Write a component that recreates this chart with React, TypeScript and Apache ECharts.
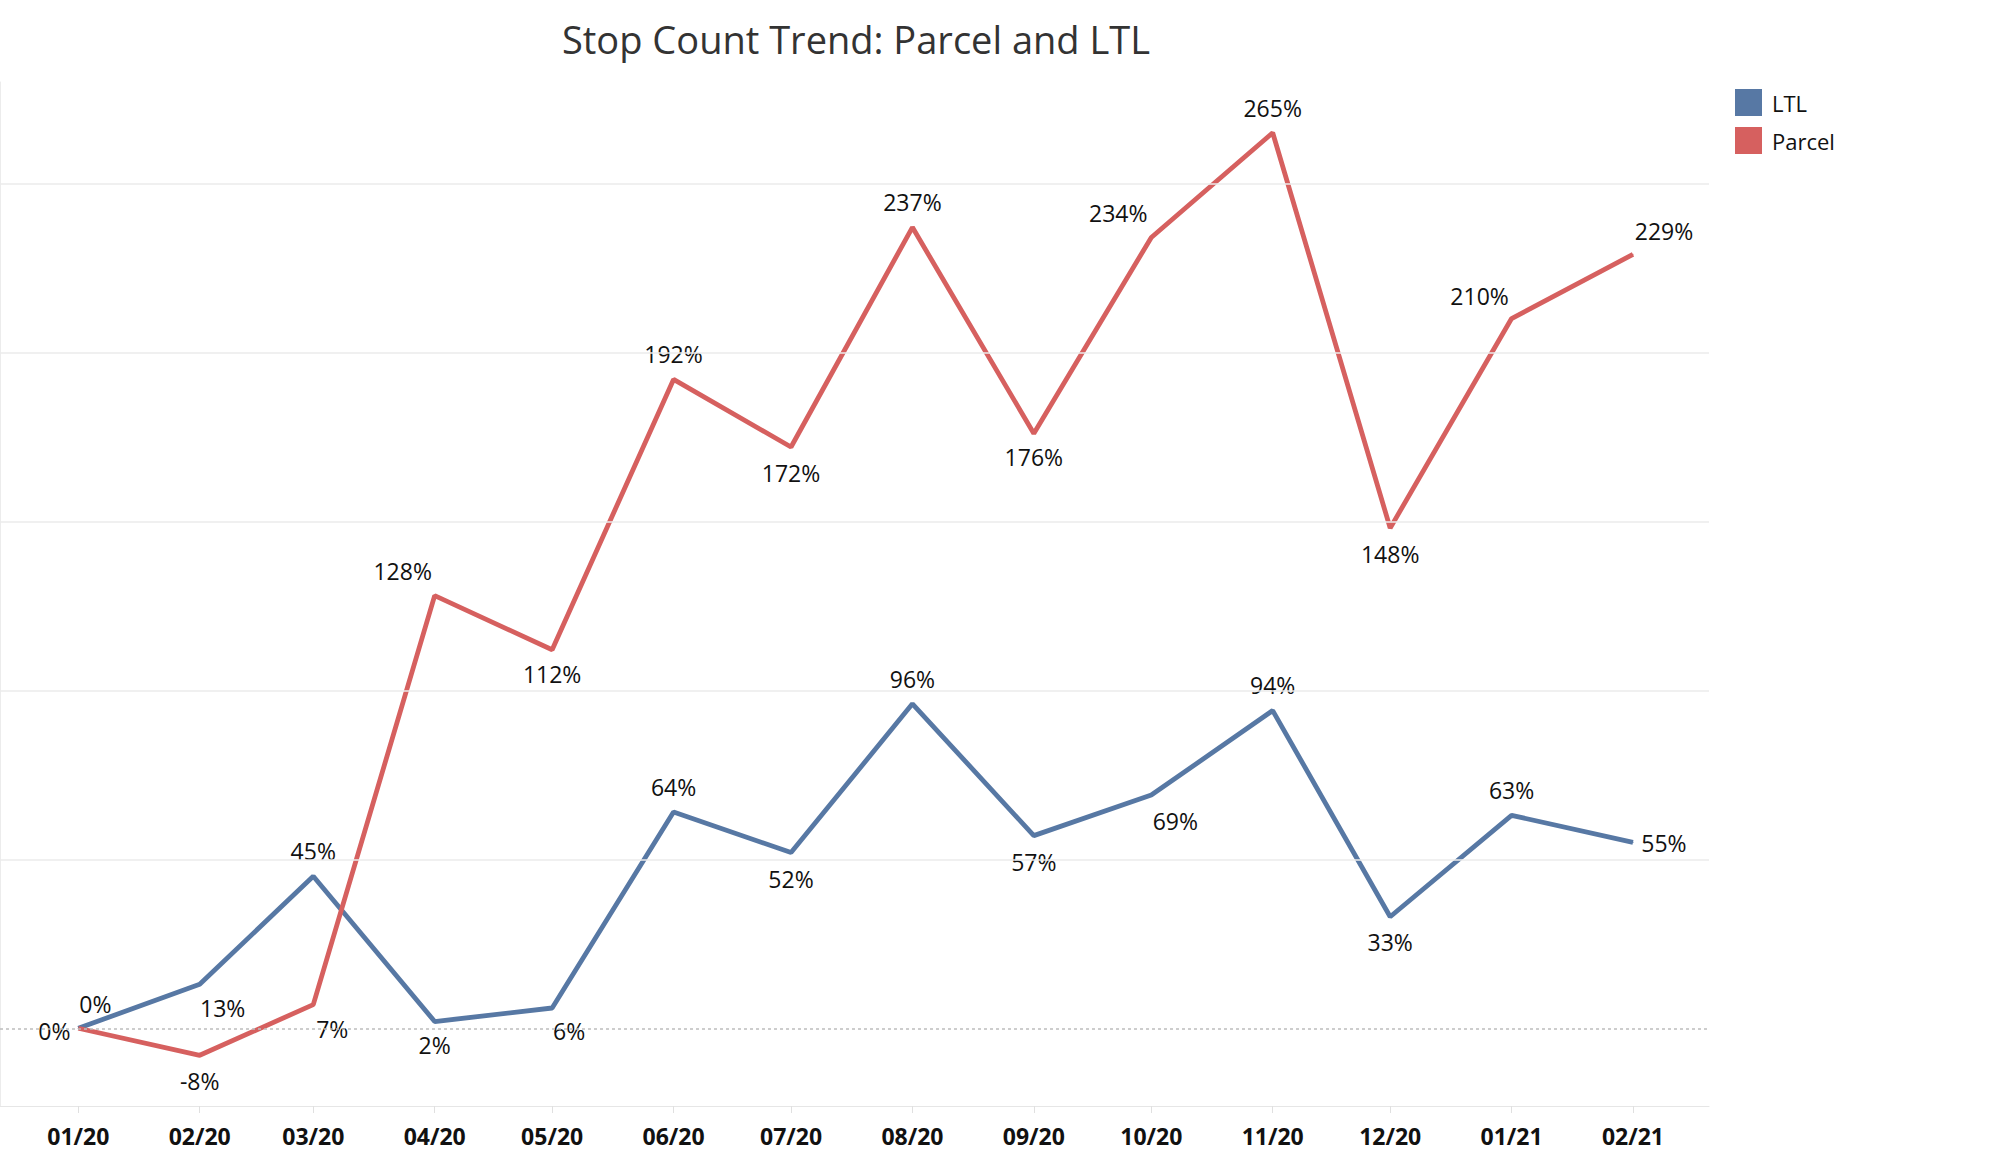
import React, { useEffect, useRef } from "react";
import * as echarts from "echarts";

const MONTHS = ["2020-01","2020-02","2020-03","2020-04","2020-05","2020-06","2020-07","2020-08","2020-09","2020-10","2020-11","2020-12","2021-01","2021-02"];
const LTL = [0, 13, 45, 2, 6, 64, 52, 96, 57, 69, 94, 33, 63, 55];
const PARCEL = [0, -8, 7, 128, 112, 192, 172, 237, 176, 234, 265, 148, 210, 229];
const GRID_VALUES = [50, 100, 150, 200, 250];
const TITLE = "Stop Count Trend: Parcel and LTL";

// label placement (style only)
const LTL_LABEL_OFFSETS = [[17,-24],[23,24],[0,-25],[0,23],[17,23],[0,-25],[0,26],[0,-25],[0,26],[24,26],[0,-26],[0,25],[0,-25],[31,1]];
const PARCEL_LABEL_OFFSETS = [[-24,3],[0,26],[19,24],[-32,-25],[0,24],[0,-25],[0,26],[0,-25],[0,24],[-33,-24],[0,-25],[0,26],[-32,-23],[31,-23]];

const BLUE = "#5778a4";
const RED = "#d6605f";

function ts(m: string) {
  const [y, mo] = m.split("-").map(Number);
  return Date.UTC(y, mo - 1, 1);
}
function fmt(v: number) {
  const d = new Date(v);
  const mm = String(d.getUTCMonth() + 1).padStart(2, "0");
  const yy = String(d.getUTCFullYear() % 100).padStart(2, "0");
  return mm + "/" + yy;
}

export default function App() {
  const ref = useRef<HTMLDivElement>(null);
  useEffect(() => {
    document.body.style.margin = "0";
    const chart = echarts.init(ref.current!, undefined, { renderer: "svg" });
    const monthTs = MONTHS.map(ts);
    const mkData = (vals: number[], offs: number[][]) =>
      vals.map((v, i) => ({
        value: [monthTs[i], v],
        label: { offset: offs[i] },
      }));
    const labelBase = {
      show: true,
      position: "inside",
      formatter: (p: any) => p.value[1] + "%",
      fontFamily: "Open Sans",
      fontSize: 23,
      fontWeight: 500,
      color: "#111",
    };
    chart.setOption({
      animation: false,
      graphic: [
        {
          type: "text",
          x: 856,
          y: 39,
          style: {
            text: TITLE,
            fontFamily: "Open Sans",
            fontSize: 38,
            fontWeight: 500,
            fill: "#333",
            textAlign: "center",
            textVerticalAlign: "middle",
          },
        },
      ],
      legend: {
        data: ["LTL", "Parcel"],
        orient: "vertical",
        left: 1735,
        top: 89,
        padding: 0,
        itemWidth: 27,
        itemHeight: 27,
        itemGap: 11,
        icon: "rect",
        textStyle: { fontFamily: "Open Sans", fontSize: 22, fontWeight: 500, color: "#111", padding: [0, 0, 0, 5] },
      },
      grid: { left: 0, right: 290, top: 82, bottom: 58 },
      xAxis: {
        type: "value",
        min: Date.UTC(2019, 11, 12),
        max: Date.UTC(2021, 1, 20, 10),
        axisLine: { show: true, onZero: false, lineStyle: { color: "#e6e6e6", width: 1 } },
        axisTick: { show: true, customValues: monthTs, length: 7, lineStyle: { color: "#e0e0e0" } },
        axisLabel: {
          customValues: monthTs,
          formatter: (v: number) => fmt(v),
          fontFamily: "Open Sans",
          fontSize: 23,
          fontWeight: "bold",
          color: "#111",
          margin: 18,
        },
        splitLine: { show: false },
      },
      yAxis: {
        type: "value",
        min: -23,
        max: 280,
        axisLine: { show: true, lineStyle: { color: "#ececec" } },
        axisTick: { show: false },
        axisLabel: { show: false },
        splitLine: { show: false },
      },
      series: [
        {
          name: "grid",
          type: "line",
          data: [],
          z: 1,
          markLine: {
            silent: true,
            symbol: "none",
            label: { show: false },
            animation: false,
            data: [
              ...GRID_VALUES.map((v) => ({ yAxis: v, lineStyle: { color: "#ebebeb", width: 1.5, type: "solid" } })),
              { yAxis: 0, lineStyle: { color: "#bdbdbd", width: 1.5, type: [3, 3] } },
            ],
          },
        },
        {
          name: "LTL",
          type: "line",
          z: 3,
          data: mkData(LTL, LTL_LABEL_OFFSETS),
          symbol: "circle",
          symbolSize: 1,
          showSymbol: true,
          lineStyle: { color: BLUE, width: 4.8 },
          itemStyle: { color: BLUE },
          label: labelBase,
        },
        {
          name: "Parcel",
          type: "line",
          z: 3,
          data: mkData(PARCEL, PARCEL_LABEL_OFFSETS),
          symbol: "circle",
          symbolSize: 1,
          showSymbol: true,
          lineStyle: { color: RED, width: 4.8 },
          itemStyle: { color: RED },
          label: labelBase,
        },
      ],
    });
    return () => chart.dispose();
  }, []);
  return <div ref={ref} style={{ width: 1999, height: 1164 }} />;
}
